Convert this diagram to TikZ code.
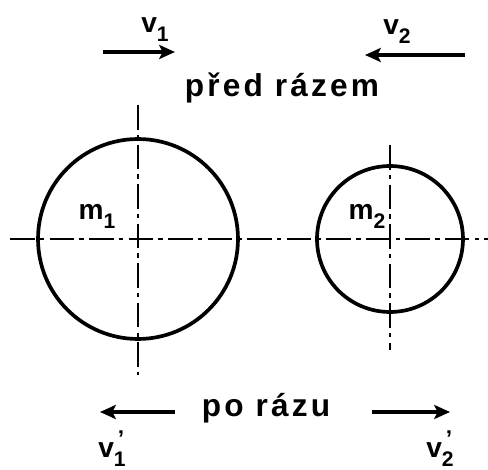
\documentclass[tikz,border=0pt]{standalone}
\usepackage{fontspec}
\setmainfont{Liberation Sans}
\usetikzlibrary{arrows.meta}
\newcommand\vsub[3]{#1\rlap{\raisebox{.75ex}{\fontsize{13}{13}\selectfont\,#3}}\raisebox{-.6ex}{\fontsize{12}{12}\selectfont #2}}
\tikzset{
 axis/.style={line width=1.2pt,dash pattern=on 14pt off 3pt on 2.5pt off 3pt},
 ball/.style={line width=2.1pt},
 vel/.style={line width=1.8pt,-{Stealth[length=9pt,width=8pt,inset=2pt]}},
 lbl/.style={font=\bfseries\fontsize{16}{18}\selectfont,inner sep=0pt},
 title/.style={font=\bfseries\fontsize{18}{20}\selectfont\addfontfeature{LetterSpace=10},inner sep=0pt}
}
\begin{document}
\begin{tikzpicture}[x=0.02cm,y=-0.02cm]
 \useasboundingbox (0,0) rectangle (488,470);
 % balls and their axes
 \coordinate (c1) at (138,239);
 \coordinate (c2) at (390,239);
 \draw[axis] (10,239)--(488,239);
 \draw[axis] (138,105)--(138,375);
 \draw[axis] (390,145)--(390,350);
 \draw[ball] (c1) circle[radius=2cm];
 \draw[ball] (c2) circle[radius=1.46cm];
 \node[lbl] (m1) at (97,216) {\vsub{m}{1}{}};
 \node[lbl] (m2) at (367,216) {\vsub{m}{2}{}};
 % before
 \node[lbl] (v1) at (155,30) {\vsub{v}{1}{}};
 \node[lbl] (v2) at (397,32) {\vsub{v}{2}{}};
 \draw[vel] (103,52)--(175,52);
 \draw[vel] (465,55)--(365,55);
 \node[title] (pred) at (282,88) {před rázem};
 % after
 \node[title] (po) at (266,408) {po rázu};
 \draw[vel] (175,412)--(100,412);
 \draw[vel] (372,412)--(450,412);
 \node[lbl] (v1p) at (112,449) {\vsub{v}{1}{’}};
 \node[lbl] (v2p) at (440,449) {\vsub{v}{2}{’}};
\end{tikzpicture}
\end{document}
